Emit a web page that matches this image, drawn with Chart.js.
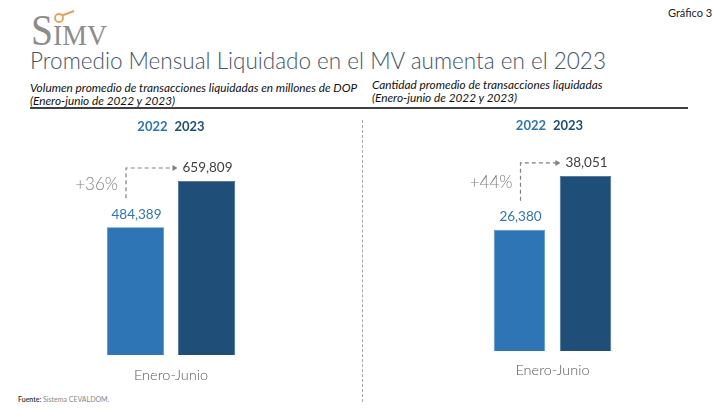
<!DOCTYPE html>
<html><head><meta charset="utf-8">
<script src="https://cdn.jsdelivr.net/npm/chart.js@4.4.0/dist/chart.umd.min.js"></script>
<style>
body{margin:0;width:728px;height:410px;position:relative;background:#fff;overflow:hidden;font-family:Lato,"Noto Sans",sans-serif;}
.abs{position:absolute;white-space:nowrap;}
#title{left:30px;top:47px;font-size:24px;color:#44546A;font-weight:300;}
.sub{font-size:11.8px;font-style:italic;color:#111;line-height:13px;}
#rule{left:30px;top:107px;width:658px;height:0;border-top:2px solid #404040;}
#sep{left:362px;top:120px;width:0;height:282px;border-left:1.5px dashed #A6A6A6;}
canvas{position:absolute;}
</style></head><body>
<div class="abs" style="left:668px;top:6px;font-size:11px;color:#222;">Gráfico 3</div>
<svg class="abs" style="left:0;top:0;" width="120" height="50">
  <text x="31" y="45" font-family="Liberation Serif" font-size="44" fill="#8C8C8C" textLength="22" lengthAdjust="spacingAndGlyphs">S</text>
  <text x="53" y="45" font-family="Liberation Serif" font-size="29" fill="#8C8C8C" textLength="54" lengthAdjust="spacingAndGlyphs">IMV</text>
  <circle cx="59" cy="18" r="4" fill="none" stroke="#E8A060" stroke-width="1.8"/>
  <line x1="62" y1="15.5" x2="74" y2="11" stroke="#E8A060" stroke-width="2.2"/>
</svg>
<div id="title" class="abs">Promedio Mensual Liquidado en el MV aumenta en el 2023</div>
<div class="abs sub" style="left:30px;top:81px;">Volumen promedio de transacciones liquidadas en millones de DOP<br>(Enero-junio de 2022 y 2023)</div>
<div class="abs sub" style="left:372px;top:78px;">Cantidad promedio de transacciones liquidadas<br>(Enero-junio de 2022 y 2023)</div>
<div id="rule" class="abs"></div>
<div id="sep" class="abs"></div>
<div class="abs" style="left:18px;top:395px;font-size:7px;color:#888;"><b style="color:#333;font-weight:600;">Fuente:</b> Sistema CEVALDOM.</div>
<canvas id="c1" width="363" height="290" style="left:0;top:110px;"></canvas>
<canvas id="c2" width="363" height="290" style="left:365px;top:110px;"></canvas>
<script>
const categories = ['Enero-Junio'];
const seriesLabels = ['2022', '2023'];
const volumen2022 = [484389];
const volumen2023 = [659809];
const cantidad2022 = [26380];
const cantidad2023 = [38051];
const yMaxVolumen = 800000;
const yMaxCantidad = 45000;
const colors = ['#2E75B6', '#1F4E79'];

(function(){
  const t = document.getElementById('title');
  const w = t.getBoundingClientRect().width;
  t.style.fontSize = (24 * 576 / w).toFixed(2) + 'px';
  document.querySelectorAll('.sub').forEach((s, i) => {
    if (i === 0) {
      const r = document.createRange(); r.selectNodeContents(s);
      const sw = s.getBoundingClientRect().width;
      const f = 11.8 * 327 / sw;
      document.querySelectorAll('.sub').forEach(e => e.style.fontSize = f.toFixed(2) + 'px');
    }
  });
})();

const fmt = v => v.toLocaleString('en-US');

const annot = {
  id: 'annot',
  afterDatasetsDraw(chart, args, o) {
    const ctx = chart.ctx;
    const b0 = chart.getDatasetMeta(0).data[0];
    const b1 = chart.getDatasetMeta(1).data[0];
    const ds = chart.data.datasets;
    const v0 = ds[0].data[0], v1 = ds[1].data[0];
    ctx.save();
    ctx.textBaseline = 'middle';
    ctx.textAlign = 'center';
    ctx.font = '13.5px Lato';
    ctx.fillStyle = '#2E75B6';
    ctx.fillText(fmt(v0), b0.x + 1, b0.y - 13);
    ctx.fillStyle = '#404040';
    const l1 = fmt(v1);
    ctx.fillText(l1, b1.x + 1, b1.y - 13);
    const lw = ctx.measureText(l1).width;
    ctx.font = 'bold 13px Lato';
    const gx = (b0.x + b1.x) / 2 + o.legendDx;
    const w0 = ctx.measureText(ds[0].label).width;
    const w1 = ctx.measureText(ds[1].label).width;
    const gap = 7;
    let sx = gx - (w0 + w1 + gap) / 2;
    ctx.textAlign = 'left';
    ctx.fillStyle = colors[0];
    ctx.fillText(ds[0].label, sx, o.legendY);
    ctx.fillStyle = colors[1];
    ctx.fillText(ds[1].label, sx + w0 + gap, o.legendY);
    const vx = b0.x + o.arrowDx;
    const yTop = b1.y - 13;
    const yBot = b0.y - 29;
    const ex = b1.x + 1 - lw / 2 - 5;
    ctx.strokeStyle = '#808080';
    ctx.lineWidth = 1.2;
    ctx.setLineDash([4, 3]);
    ctx.beginPath();
    ctx.moveTo(vx, yBot); ctx.lineTo(vx, yTop); ctx.lineTo(ex - 4, yTop);
    ctx.stroke();
    ctx.setLineDash([]);
    ctx.fillStyle = '#808080';
    ctx.beginPath();
    ctx.moveTo(ex, yTop); ctx.lineTo(ex - 5, yTop - 3); ctx.lineTo(ex - 5, yTop + 3);
    ctx.closePath(); ctx.fill();
    const pct = Math.round((v1 / v0 - 1) * 100);
    ctx.font = '300 17px Lato';
    ctx.fillStyle = '#7F7F7F';
    ctx.textAlign = 'right';
    ctx.fillText('+' + pct + '%', vx - 8, (yTop + yBot) / 2 + 1);
    ctx.font = '300 14.5px Lato';
    ctx.fillStyle = '#595959';
    ctx.textAlign = 'center';
    const xs = chart.scales.x;
    ctx.fillText(chart.data.labels[0], xs.getPixelForValue(0), chart.chartArea.bottom + o.catDy);
    ctx.restore();
  }
};

function makeChart(id, d0, d1, yMax, pad, catPct, barPct, o) {
  new Chart(document.getElementById(id), {
    type: 'bar',
    data: {
      labels: categories,
      datasets: [
        { label: seriesLabels[0], data: d0, backgroundColor: colors[0], borderColor: '#5B8FC4', borderWidth: 0.8 },
        { label: seriesLabels[1], data: d1, backgroundColor: colors[1], borderColor: '#3E6A94', borderWidth: 0.8 }
      ]
    },
    options: {
      responsive: false,
      animation: false,
      events: [],
      layout: { padding: pad },
      datasets: { bar: { categoryPercentage: catPct, barPercentage: barPct } },
      scales: {
        x: { display: false },
        y: { display: false, min: 0, max: yMax }
      },
      plugins: { legend: { display: false }, tooltip: { enabled: false }, annot: o }
    },
    plugins: [annot]
  });
}

makeChart('c1', volumen2022, volumen2023, yMaxVolumen,
  { left: 71, right: 92, top: 34, bottom: 45 }, 0.71, 0.803,
  { legendY: 17, legendDx: 0, arrowDx: -9.5, catDy: 20 });
makeChart('c2', cantidad2022, cantidad2023, yMaxCantidad,
  { left: 87.5, right: 75.5, top: 34, bottom: 49 }, 0.66, 0.78,
  { legendY: 16, legendDx: -3, arrowDx: 1, catDy: 19 });
</script>
</body></html>
